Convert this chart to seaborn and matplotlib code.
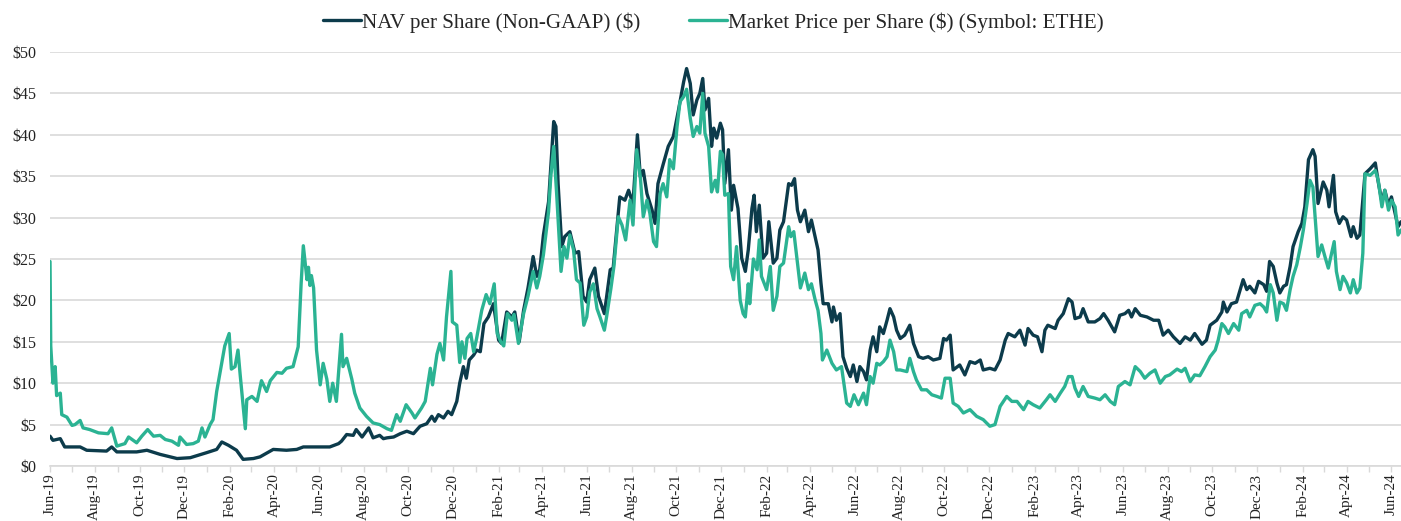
import pandas as pd
import seaborn as sns
import matplotlib.pyplot as plt
import matplotlib.dates as mdates
from matplotlib.ticker import FuncFormatter

# Days since 2019-06-01 and values
nav_days = [0, 4, 14, 20, 41, 50, 77, 84, 91, 118, 132, 150, 173, 191, 213, 227, 234, 243, 254, 263,
            277, 286, 304, 322, 336, 345, 363, 381, 393, 397, 404, 413, 417, 425, 434, 440, 449, 454, 459, 468,
            477, 486, 495, 504, 513, 520, 524, 529, 536, 542, 547, 554, 558, 563, 567, 571, 577, 581, 586, 591,
            597, 604, 611, 615, 622, 629, 633, 639, 645, 651, 658, 663, 667, 672, 679, 686, 689, 692, 697, 701,
            708, 715, 720, 726, 731, 735, 742, 747, 755, 763, 767, 776, 783, 788, 794, 800, 804, 808, 813, 820,
            824, 828, 835, 842, 849, 856, 863, 867, 872, 876, 881, 885, 889, 892, 897, 901, 904, 908, 913, 916,
            919, 924, 928, 931, 937, 942, 947, 951, 956, 959, 962, 966, 971, 976, 979, 985, 990, 994, 999, 1006,
            1010, 1014, 1018, 1022, 1028, 1033, 1037, 1042, 1046, 1050, 1053, 1060, 1065, 1067, 1071, 1076, 1080, 1085, 1090, 1094,
            1099, 1103, 1108, 1112, 1117, 1121, 1126, 1130, 1135, 1140, 1144, 1149, 1153, 1158, 1164, 1171, 1176, 1183, 1189, 1196,
            1203, 1212, 1217, 1221, 1226, 1230, 1239, 1246, 1253, 1260, 1267, 1271, 1280, 1287, 1294, 1301, 1305, 1314, 1321, 1328,
            1332, 1339, 1345, 1351, 1355, 1359, 1369, 1373, 1380, 1387, 1392, 1396, 1403, 1407, 1414, 1423, 1430, 1435, 1441, 1450,
            1457, 1464, 1469, 1473, 1478, 1485, 1494, 1503, 1510, 1516, 1523, 1530, 1539, 1546, 1553, 1559, 1569, 1575, 1580, 1589,
            1596, 1598, 1603, 1609, 1616, 1623, 1625, 1630, 1634, 1641, 1646, 1653, 1657, 1661, 1666, 1671, 1675, 1680, 1684, 1689,
            1693, 1700, 1705, 1709, 1714, 1720, 1723, 1727, 1734, 1739, 1742, 1748, 1751, 1756, 1761, 1766, 1772, 1775, 1780, 1784,
            1791, 1798, 1805, 1809, 1814, 1818, 1823, 1827, 1832, 1836, 1840]
nav_values = [3.6, 3.1, 3.3, 2.3, 2.3, 1.9, 1.8, 2.3, 1.7, 1.7, 1.9, 1.4, 0.9, 1.0, 1.6, 2.0, 2.9, 2.5, 1.9, 0.8,
              0.9, 1.1, 2.0, 1.9, 2.0, 2.3, 2.3, 2.3, 2.7, 3.0, 3.8, 3.7, 4.4, 3.5, 4.6, 3.4, 3.7, 3.3, 3.4, 3.5,
              3.9, 4.2, 3.9, 4.8, 5.1, 6.0, 5.4, 6.2, 5.8, 6.6, 6.2, 7.8, 10.0, 12.0, 10.6, 12.8, 13.4, 14.0, 13.8, 17.2,
              18.0, 19.6, 15.2, 14.8, 18.6, 18.0, 18.6, 15.0, 18.8, 21.5, 25.3, 22.9, 23.7, 27.9, 31.9, 41.6, 41.0, 34.1, 26.5, 27.7,
              28.3, 25.7, 25.9, 20.5, 19.8, 22.5, 23.9, 20.5, 18.4, 23.7, 23.9, 32.5, 32.1, 33.3, 31.7, 40.0, 34.9, 35.7, 32.9, 30.9,
              29.3, 34.1, 36.4, 38.6, 39.8, 43.0, 46.4, 48.0, 46.2, 42.4, 44.2, 45.0, 46.8, 43.0, 44.4, 38.6, 40.8, 39.6, 41.4, 40.6,
              34.1, 38.2, 30.9, 33.9, 31.1, 25.1, 23.5, 26.1, 31.1, 32.7, 28.3, 31.5, 25.1, 25.7, 29.5, 24.5, 25.1, 28.5, 29.5, 34.1,
              33.9, 34.7, 30.9, 29.5, 30.9, 28.3, 29.7, 27.7, 26.1, 22.1, 19.6, 19.6, 17.4, 19.2, 17.6, 18.4, 13.2, 11.8, 10.8, 12.2,
              10.2, 12.0, 11.4, 10.4, 14.0, 15.6, 13.8, 16.8, 16.0, 17.6, 19.0, 18.0, 16.4, 15.4, 15.8, 17.0, 14.8, 13.2, 13.0, 13.2,
              12.8, 13.0, 15.4, 15.2, 15.8, 11.6, 12.2, 11.0, 12.6, 12.4, 12.8, 11.6, 11.8, 11.6, 12.8, 15.2, 16.0, 15.6, 16.4, 14.6,
              16.6, 15.8, 15.6, 13.8, 16.4, 17.0, 16.6, 17.6, 18.4, 20.2, 19.8, 17.8, 18.0, 19.0, 17.4, 17.4, 17.8, 18.4, 17.6, 16.2,
              18.2, 18.4, 18.8, 18.0, 19.0, 18.2, 18.0, 17.6, 17.6, 15.8, 16.4, 15.6, 14.8, 15.6, 15.2, 16.0, 14.7, 15.2, 17.0, 17.6,
              18.6, 19.8, 18.6, 19.6, 19.8, 21.9, 22.5, 21.3, 21.7, 20.9, 22.3, 21.9, 21.1, 24.7, 24.1, 22.1, 20.9, 21.7, 21.9, 24.1,
              26.5, 28.3, 29.3, 31.3, 37.0, 38.2, 37.4, 31.7, 34.3, 33.3, 31.3, 35.1, 30.7, 29.3, 30.1, 29.7, 27.7, 28.9, 27.5, 27.9,
              35.3, 35.9, 36.6, 34.3, 31.9, 33.3, 31.5, 32.5, 30.5, 28.9, 29.5]

mkt_days = [0, 1, 4, 7, 9, 14, 16, 23, 30, 34, 41, 45, 54, 66, 79, 84, 91, 102, 107, 118,
            125, 133, 141, 150, 157, 166, 175, 177, 186, 195, 202, 207, 211, 218, 222, 227, 232, 238, 244, 247,
            252, 256, 259, 266, 268, 275, 282, 288, 295, 300, 309, 316, 322, 331, 338, 342, 345, 350, 352, 354,
            356, 359, 363, 368, 372, 377, 381, 385, 390, 397, 399, 404, 411, 415, 422, 431, 440, 449, 459, 465,
            472, 477, 485, 493, 497, 506, 511, 518, 521, 527, 531, 536, 540, 546, 548, 554, 558, 561, 565, 568,
            573, 577, 581, 588, 594, 599, 605, 609, 614, 618, 623, 629, 632, 638, 645, 651, 658, 663, 667, 672,
            679, 682, 686, 690, 696, 700, 704, 708, 713, 717, 722, 727, 731, 735, 740, 745, 749, 755, 758, 764,
            768, 774, 779, 784, 790, 794, 799, 804, 808, 813, 817, 822, 826, 831, 835, 840, 844, 849, 854, 858,
            863, 867, 872, 876, 881, 885, 889, 892, 897, 901, 906, 909, 913, 916, 919, 924, 927, 931, 935, 940,
            944, 947, 951, 953, 958, 963, 966, 969, 976, 981, 985, 990, 994, 999, 1006, 1009, 1013, 1018, 1022, 1028,
            1033, 1037, 1042, 1046, 1050, 1052, 1058, 1065, 1071, 1078, 1085, 1090, 1095, 1101, 1108, 1112, 1117, 1121, 1126, 1130,
            1135, 1140, 1144, 1149, 1153, 1158, 1167, 1171, 1176, 1180, 1187, 1194, 1201, 1208, 1214, 1219, 1226, 1230, 1237, 1244,
            1253, 1262, 1271, 1280, 1287, 1294, 1303, 1310, 1317, 1326, 1332, 1339, 1348, 1357, 1362, 1369, 1376, 1382, 1387, 1392,
            1396, 1401, 1407, 1414, 1423, 1430, 1437, 1444, 1450, 1455, 1464, 1471, 1478, 1485, 1491, 1498, 1505, 1512, 1519, 1525,
            1535, 1541, 1546, 1553, 1559, 1566, 1573, 1580, 1587, 1591, 1596, 1600, 1605, 1612, 1619, 1623, 1630, 1634, 1641, 1648,
            1653, 1657, 1662, 1666, 1671, 1675, 1680, 1684, 1689, 1693, 1698, 1703, 1707, 1712, 1716, 1720, 1723, 1727, 1732, 1737,
            1741, 1746, 1749, 1752, 1757, 1761, 1766, 1771, 1775, 1780, 1784, 1788, 1791, 1798, 1805, 1809, 1814, 1818, 1823, 1827,
            1832, 1836, 1840]
mkt_values = [24.7, 14.5, 10.0, 12.0, 8.5, 8.8, 6.2, 5.9, 4.9, 5.0, 5.5, 4.6, 4.4, 4.0, 3.9, 4.6, 2.4, 2.7, 3.5, 2.8,
              3.6, 4.4, 3.6, 3.7, 3.2, 3.0, 2.5, 3.5, 2.6, 2.7, 3.0, 4.6, 3.5, 5.0, 5.6, 9.0, 11.5, 14.5, 16.0, 11.7,
              12.0, 14.0, 11.0, 4.5, 8.0, 8.4, 7.8, 10.3, 9.0, 10.3, 11.3, 11.2, 11.8, 12.0, 14.4, 22.0, 26.6, 22.5, 24.0, 21.8,
              23.0, 21.5, 14.0, 9.8, 12.4, 10.5, 7.8, 10.0, 7.8, 15.9, 12.0, 13.0, 10.5, 8.8, 7.0, 6.0, 5.2, 5.0, 4.5, 4.3,
              6.2, 5.4, 7.4, 6.4, 5.8, 7.0, 7.8, 11.8, 9.8, 13.5, 14.8, 12.8, 18.0, 23.5, 17.4, 17.0, 12.5, 15.0, 13.0, 15.4,
              16.0, 13.8, 15.4, 18.8, 20.7, 19.6, 22.0, 16.0, 15.0, 14.5, 18.4, 17.6, 18.3, 14.8, 18.4, 20.5, 23.5, 21.5, 22.9, 25.5,
              30.7, 34.9, 38.6, 32.9, 23.5, 26.5, 25.1, 27.9, 26.1, 22.5, 22.1, 17.0, 18.0, 21.0, 22.0, 19.0, 18.0, 16.4, 18.0, 21.5,
              24.1, 30.1, 29.1, 27.3, 32.1, 29.1, 38.2, 34.9, 30.1, 32.1, 30.5, 27.1, 26.5, 32.9, 34.1, 32.5, 37.0, 35.9, 41.0, 44.0,
              44.6, 45.5, 42.0, 39.8, 41.0, 40.2, 45.0, 40.2, 38.6, 33.1, 34.5, 33.1, 38.0, 37.6, 32.7, 32.9, 24.1, 22.5, 26.5, 20.0,
              18.4, 18.0, 22.0, 19.6, 25.0, 23.7, 27.3, 22.9, 21.3, 24.1, 18.8, 20.5, 24.1, 24.5, 28.9, 27.7, 28.3, 24.5, 21.5, 23.3,
              21.3, 22.0, 20.1, 18.8, 16.0, 12.8, 14.0, 12.4, 11.6, 12.0, 7.6, 7.2, 8.6, 7.4, 8.8, 7.4, 10.8, 10.0, 12.4, 12.2,
              12.6, 13.2, 15.2, 13.8, 11.6, 11.6, 11.4, 13.0, 11.4, 10.4, 9.2, 9.2, 8.6, 8.4, 8.2, 10.6, 10.6, 7.6, 7.2, 6.4,
              6.8, 6.0, 5.6, 4.8, 5.0, 7.2, 8.4, 7.8, 7.8, 6.8, 7.8, 7.4, 7.0, 8.0, 8.6, 7.8, 8.8, 9.6, 10.8, 10.8,
              9.4, 8.4, 9.6, 8.4, 8.2, 8.0, 8.6, 7.8, 7.4, 9.6, 10.2, 9.8, 12.0, 11.4, 10.6, 11.2, 11.6, 10.0, 10.8, 11.0,
              11.7, 11.4, 11.8, 10.2, 11.0, 10.9, 12.0, 13.2, 14.0, 15.2, 17.2, 16.8, 16.0, 17.2, 16.4, 18.4, 18.8, 18.0, 19.4, 19.6,
              19.2, 18.6, 21.9, 20.9, 17.6, 19.8, 19.6, 18.8, 21.3, 22.9, 24.3, 26.5, 28.5, 31.7, 34.5, 33.7, 30.1, 25.3, 26.7, 25.1,
              23.9, 25.9, 27.1, 23.5, 21.3, 22.9, 22.1, 20.9, 22.5, 20.9, 21.5, 25.7, 35.3, 35.1, 35.7, 34.5, 31.3, 33.3, 30.9, 32.1,
              31.3, 27.9, 28.5]

series_names = ["NAV per Share (Non-GAAP) ($)", "Market Price per Share ($) (Symbol: ETHE)"]
series_colors = ["#0c3b4b", "#2bb393"]
start = pd.Timestamp("2019-06-01")

nav = pd.DataFrame({"date": start + pd.to_timedelta(nav_days, unit="D"), "value": nav_values,
                    "series": series_names[0]})
mkt = pd.DataFrame({"date": start + pd.to_timedelta(mkt_days, unit="D"), "value": mkt_values,
                    "series": series_names[1]})
df = pd.concat([nav, mkt], ignore_index=True)

sns.set_theme(style="whitegrid")
plt.rcParams["font.family"] = ["Liberation Serif", "DejaVu Serif"]

fig = plt.figure(figsize=(14.01, 5.21), dpi=100)
ax = fig.add_axes([0.0357, 0.1056, 0.9643, 0.7946])

sns.lineplot(data=df, x="date", y="value", hue="series", hue_order=series_names,
             palette=series_colors, linewidth=2.4, estimator=None, ax=ax)

ax.set_xlim(start, start + pd.Timedelta(days=1840))
ax.set_ylim(0, 50)
ax.set_yticks(range(0, 51, 5))
ax.yaxis.set_major_formatter(FuncFormatter(lambda v, p: f"${v:.0f}"))
ax.xaxis.set_major_locator(mdates.MonthLocator(bymonth=[2, 4, 6, 8, 10, 12]))
ax.xaxis.set_minor_locator(mdates.MonthLocator())
ax.xaxis.set_major_formatter(mdates.DateFormatter("%b-%y"))
ax.set_xlabel("")
ax.set_ylabel("")

ax.grid(axis="x", visible=False)
ax.grid(axis="y", color="#d9d9d9", linewidth=1.2)
for side in ["left", "right", "top"]:
    ax.spines[side].set_visible(False)
ax.spines["bottom"].set_color("#d9d9d9")
ax.spines["bottom"].set_linewidth(1.2)

ax.tick_params(axis="y", length=0, pad=10, labelsize=11.5, labelcolor="#222222")
ax.tick_params(axis="x", which="both", bottom=True, length=4, color="#d9d9d9", width=1.0,
               labelsize=11, labelcolor="#222222", labelrotation=90, pad=1.5)

handles, labels = ax.get_legend_handles_labels()
ax.legend(handles, labels, loc="upper center", bbox_to_anchor=(0.509, 1.005),
          bbox_transform=fig.transFigure, ncol=2, frameon=False, fontsize=15.2,
          handlelength=1.8, handletextpad=0.05, columnspacing=2.3, borderaxespad=0.3)

plt.savefig("out.png", dpi=100)
